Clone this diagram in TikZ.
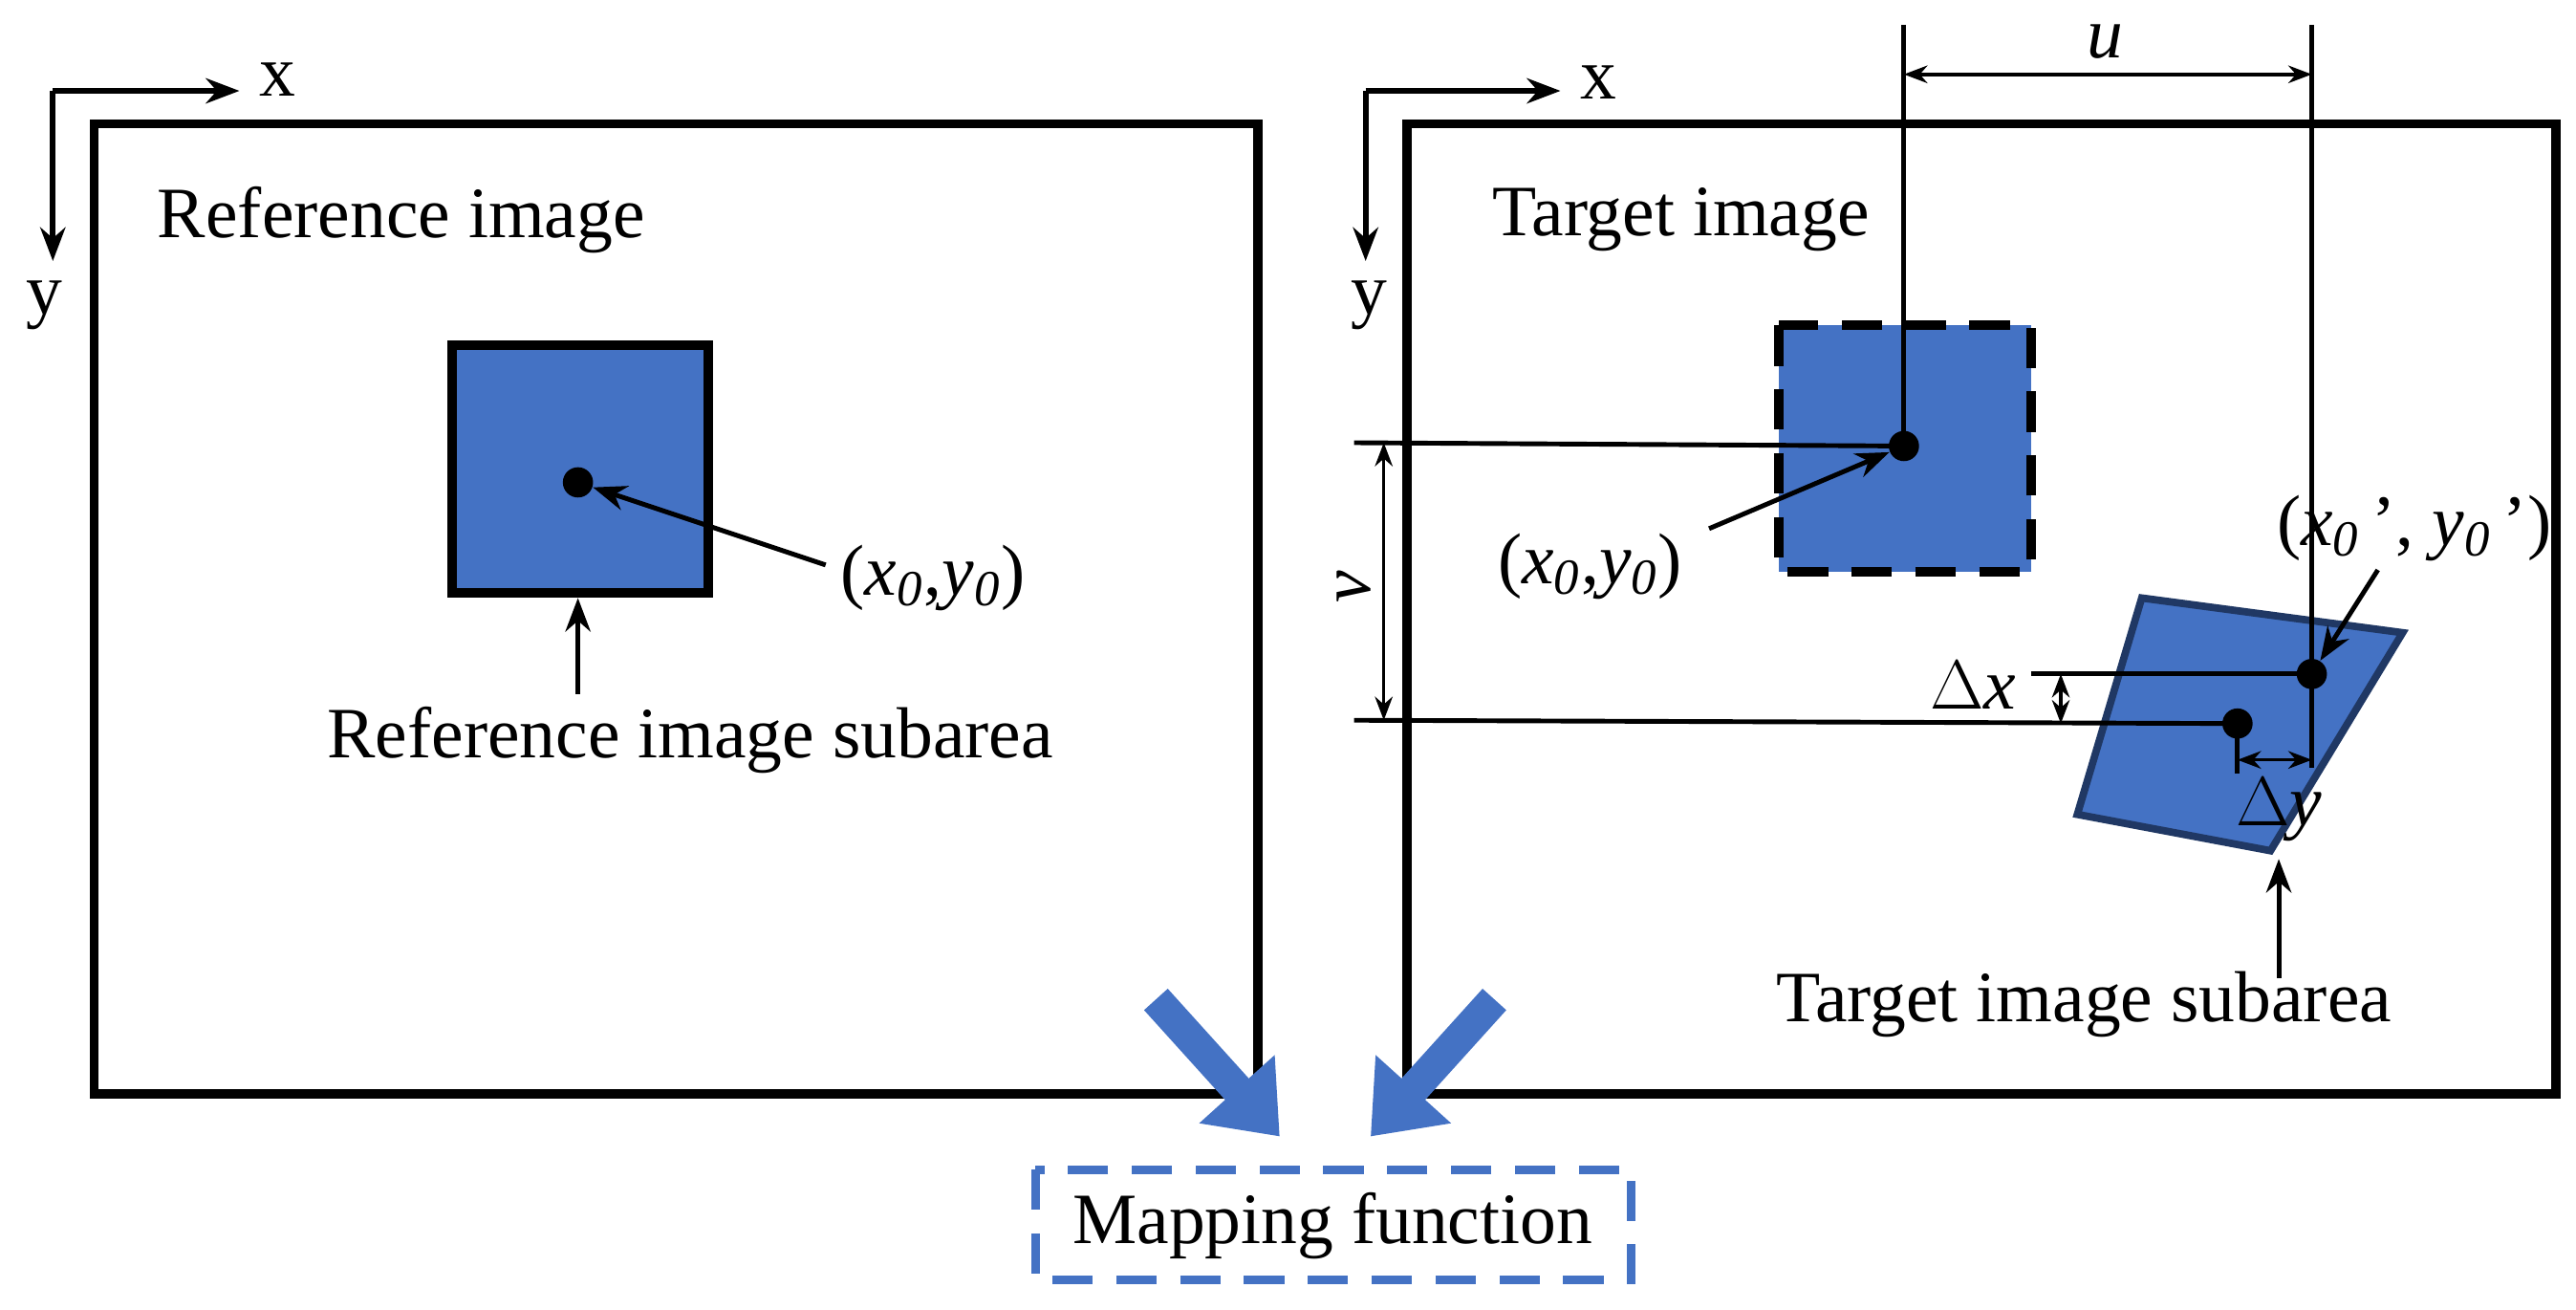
\documentclass[tikz,border=0pt]{standalone}
\usepackage{fontspec}
\setmainfont{Liberation Serif}
\usetikzlibrary{arrows.meta}
\definecolor{fillb}{HTML}{4472C4}
\definecolor{darkb}{HTML}{203864}
\newcommand{\xo}{\textit{x}\textsubscript{\textit{0}}}
\newcommand{\yo}{\textit{y}\textsubscript{\textit{0}}}
\begin{document}
\begin{tikzpicture}[x=0.017276cm,y=-0.017276cm,
  frame/.style={line width=2.8pt},
  ax/.style={line width=1.6pt,-{Stealth[length=10pt]}},
  lbl/.style={font=\fontsize{21.5}{24}\selectfont,inner sep=0},
  thin/.style={line width=1.4pt},
  dim/.style={line width=1pt,{Stealth[length=7pt]}-{Stealth[length=7pt]}},
  pt/.style={circle,fill=black,inner sep=0,minimum size=9pt},
  fat/.style={draw=fillb,line width=9.5pt,-{Triangle[length=19pt,width=29pt]}}]
\useasboundingbox (0,0) rectangle (1560,793);
% left frame
\draw[frame] (57,75) rectangle (762,662);
\coordinate (lc) at (32,55);
\draw[ax] (lc) -- (145,55);
\draw[ax] (lc) -- (32,158);
\node[lbl] at (168,48) {x};
\node[lbl] at (27,185) {y};
\node[lbl] at (243,133) {Reference image};
\draw[fill=fillb,line width=2.8pt] (274,209) rectangle (429,359);
\node[pt] (d1) at (350,292) {};
\node[lbl] (l1) at (565,350) {(\xo,\yo)};
\draw[thin,-{Stealth[length=10pt]}] (500,342) -- (d1);
\node[lbl] (rs) at (418,448) {Reference image subarea};
\draw[thin,-{Stealth[length=10pt]}] (350,420) -- (350,362);
% right frame
\draw[frame] (852,75) rectangle (1548,662);
\coordinate (rc) at (827,55);
\draw[ax] (rc) -- (945,55);
\draw[ax] (rc) -- (827,158);
\node[lbl] at (968,50) {x};
\node[lbl] at (829,185) {y};
\node[lbl] at (1018,133) {Target image};
\draw[fill=fillb,line width=2.8pt,dash pattern=on 12pt off 7pt] (1077,197) rectangle (1230,346);
\node[pt] (d2) at (1153,270) {};
\node[lbl] at (963,343) {(\xo,\yo)};
\draw[thin,-{Stealth[length=10pt]}] (1035,320) -- (d2);
\draw[thin] (1153,15) -- (d2.center);
\draw[thin] (820,268) -- (d2.center);
% parallelogram
\draw[fill=fillb,draw=darkb,line width=2.2pt] (1297,362) -- (1455,383) -- (1375,515) -- (1258,493) -- cycle;
\node[pt] (d3) at (1400,408) {};
\node[pt] (d4) at (1355,438) {};
\draw[thin] (1400,15) -- (1400,465);
\draw[thin] (820,436) -- (d4.center);
\draw[thin] (1230,408) -- (d3.center);
\draw[thin] (d4.center) -- (1355,468);
\draw[dim] (1153,45) -- (1400,45);
\node[lbl] at (1275,25) {\textit{u}};
\draw[dim] (838,268) -- (838,436);
\node[lbl,rotate=90] at (820,355) {\textit{v}};
\draw[dim] (1248,408) -- (1248,438);
\node[lbl] at (1195,415) {$\Delta$\textit{x}};
\draw[dim] (1355,460) -- (1400,460);
\node[lbl] at (1380,490) {$\Delta$\textit{y}};
\node[lbl] at (1462,320) {(\xo\,’, \yo\,’)};
\draw[thin,-{Stealth[length=10pt]}] (1440,345) -- (d3);
\node[lbl] at (1262,608) {Target image subarea};
\draw[thin,-{Stealth[length=10pt]}] (1380,592) -- (1380,520);
% mapping
\draw[draw=fillb,line width=2.6pt,dash pattern=on 12pt off 7pt] (627,708) rectangle (988,775);
\node[lbl] (mf) at (807,742) {Mapping function};
\draw[fat] (700,605) -- (775,688);
\draw[fat] (905,605) -- (830,688);
\end{tikzpicture}
\end{document}
